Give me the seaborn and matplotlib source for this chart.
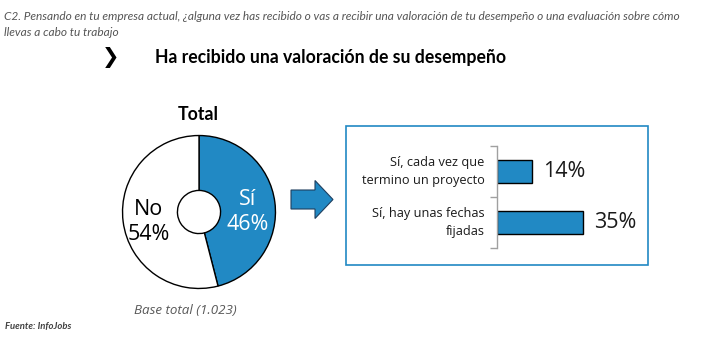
import seaborn as sns
import matplotlib.pyplot as plt
import pandas as pd
from matplotlib.patches import Rectangle, FancyArrow

# data
pie_labels = ['Sí', 'No']
pie_values = [46, 54]
bar_labels = ['Sí, cada vez que\ntermino un proyecto', 'Sí, hay unas fechas\nfijadas']
bar_values = [14, 35]

blue = '#2189C4'
W, H = 711, 342

sns.set_theme(style='white')
plt.rcParams['font.family'] = ['Lato', 'DejaVu Sans']

fig = plt.figure(figsize=(W / 100, H / 100), dpi=100)
fig.patch.set_facecolor('white')


def fx(px):
    return px / W


def fy(py):
    return 1 - py / H


# header texts
fig.text(fx(4), fy(17), 'C2. Pensando en tu empresa actual, ¿alguna vez has recibido o vas a recibir una valoración de tu desempeño o una evaluación sobre cómo',
         fontsize=8.6, style='italic', color='#555555', va='center', ha='left')
fig.text(fx(4), fy(32), 'llevas a cabo tu trabajo',
         fontsize=8.6, style='italic', color='#555555', va='center', ha='left')
fig.text(fx(111), fy(58), '❯', fontsize=15, fontweight='bold', family=['DejaVu Sans'],
         va='center', ha='center', color='black')
fig.text(fx(155), fy(58), 'Ha recibido una valoración de su desempeño', fontsize=12.7,
         fontweight='bold', va='center', ha='left', color='black')

# donut
R = 78
axp = fig.add_axes([fx(199 - R), fy(212 + R), 2 * R / W, 2 * R / H])
axp.pie(pie_values, colors=[blue, 'white'], startangle=90, counterclock=False,
        radius=1, wedgeprops=dict(width=1 - 22 / 78, edgecolor='black', linewidth=1.0))
axp.set_xlim(-1.02, 1.02)
axp.set_ylim(-1.02, 1.02)
axp.axis('off')
fig.text(fx(248), fy(212), f'{pie_labels[0]}\n{pie_values[0]}%', fontsize=15.5, color='white',
         ha='center', va='center', family=['Open Sans'], linespacing=1.3)
fig.text(fx(149), fy(222), f'{pie_labels[1]}\n{pie_values[1]}%', fontsize=15.5, color='black',
         ha='center', va='center', family=['Open Sans'], linespacing=1.3)
fig.text(fx(198), fy(115), 'Total', fontsize=12.8, fontweight='bold', ha='center', va='center',
         color='black')
fig.text(fx(185), fy(310), 'Base total (1.023)', fontsize=9.6, style='italic', color='#595959',
         ha='center', va='center', family=['Open Sans'])
fig.text(fx(5), fy(326), 'Fuente: InfoJobs', fontsize=6.8, style='italic', fontweight='bold',
         color='#404040', ha='left', va='center')

# arrow
fig.patches.append(FancyArrow(fx(291), fy(199.5), fx(333 - 291), 0, width=19 / H,
                              head_width=38 / H, head_length=fx(18), length_includes_head=True,
                              transform=fig.transFigure, facecolor=blue, edgecolor='#1F3F5F',
                              linewidth=0.8))

# box
fig.patches.append(Rectangle((fx(346), fy(265)), fx(648 - 346), (265 - 126) / H,
                             transform=fig.transFigure, facecolor='none', edgecolor=blue,
                             linewidth=1.2))

# bars
df = pd.DataFrame({'label': bar_labels, 'value': bar_values})
axb = fig.add_axes([fx(497), fy(248), fx(143), (248 - 146) / H])
sns.barplot(data=df, x='value', y='label', orient='h', color=blue, edgecolor='black',
            linewidth=1.0, width=0.47, saturation=1, ax=axb)
axb.set_xlim(0, 58)
axb.set_ylim(1.5, -0.5)
for s in ['top', 'right', 'bottom']:
    axb.spines[s].set_visible(False)
axb.spines['left'].set_color('#A0A0A0')
axb.spines['left'].set_linewidth(1)
axb.set_xticks([])
axb.set_xlabel('')
axb.set_ylabel('')
axb.set_yticks([-0.5, 0.5, 1.5], minor=False)
axb.set_yticklabels([])
axb.tick_params(axis='y', which='major', left=True, length=5, width=1, color='#A0A0A0')
axb.set_facecolor('none')
for i, (lab, v) in enumerate(zip(bar_labels, bar_values)):
    axb.text(-5, i, lab, ha='right', va='center', fontsize=9.2, linespacing=1.45,
             family=['Open Sans'], color='#1A1A1A')
    axb.text(v + 4.5, i, f'{v}%', ha='left', va='center', fontsize=15.5, family=['Open Sans'],
             color='#1A1A1A')

fig.savefig('out.png', dpi=100, facecolor='white')
